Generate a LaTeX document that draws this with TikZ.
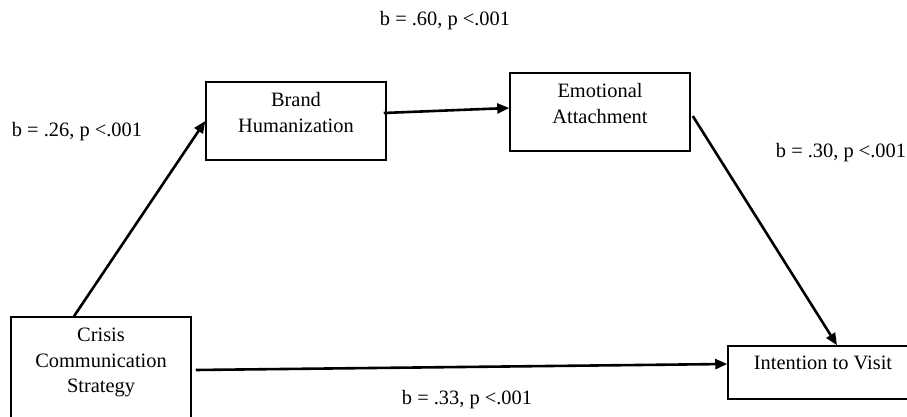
\documentclass[tikz,border=0pt]{standalone}
\usepackage{fontspec}
\setmainfont{Liberation Serif}
\usetikzlibrary{positioning,arrows.meta}
\tikzset{
  box/.style={draw,line width=1.5pt,minimum width=180pt,inner sep=0pt},
  boxtext/.style={align=center,inner sep=0pt},
  coef/.style={anchor=base,inner sep=0pt},
  link/.style={line width=2.6pt,-{Triangle[length=12pt,width=10pt]}}
}
\begin{document}
\begin{tikzpicture}[x=1pt,y=1pt,font=\fontsize{20.4}{25.5}\selectfont]
    \clip (0,0) rectangle (907,417);
    % boxes
    \node[box,minimum height=140pt] (crisis) at (101,30) {};
    \node[box,minimum height=78pt] (brand) at (296,296) {};
    \node[box,minimum height=78pt] (emo) at (600,305) {};
    \node[box,minimum width=190pt,minimum height=53pt] (visit) at (823,44.5) {};
    \node[boxtext,below=12pt of crisis.north] (crisistext) {Crisis\\Communication\\Strategy};
    \node[boxtext,below=11pt of brand.north] (brandtext) {Brand\\Humanization};
    \node[boxtext,below=11pt of emo.north] (emotext) {Emotional\\Attachment};
    \node[boxtext,below=11pt of visit.north] (visittext) {Intention to Visit};
    % paths
    \draw[link] ([xshift=-27pt]crisis.north) -- (brand.west);
    \draw[link] ([xshift=-3pt,yshift=8pt]brand.east) -- ([yshift=4pt]emo.west);
    \draw[link] ([xshift=2pt,yshift=-4pt]emo.east) -- ([xshift=14pt]visit.north);
    \draw[link] ([xshift=4pt,yshift=17pt]crisis.east) -- ([yshift=8.5pt]visit.west);
    % coefficients
    \node[coef] (bhea) at (445,391) {b = .60, p <.001};
    \node[coef] (csbh) at (77,280) {b = .26, p <.001};
    \node[coef] (eaiv) at (841,259) {b = .30, p <.001};
    \node[coef] (csiv) at (467,12) {b = .33, p <.001};
\end{tikzpicture}
\end{document}
